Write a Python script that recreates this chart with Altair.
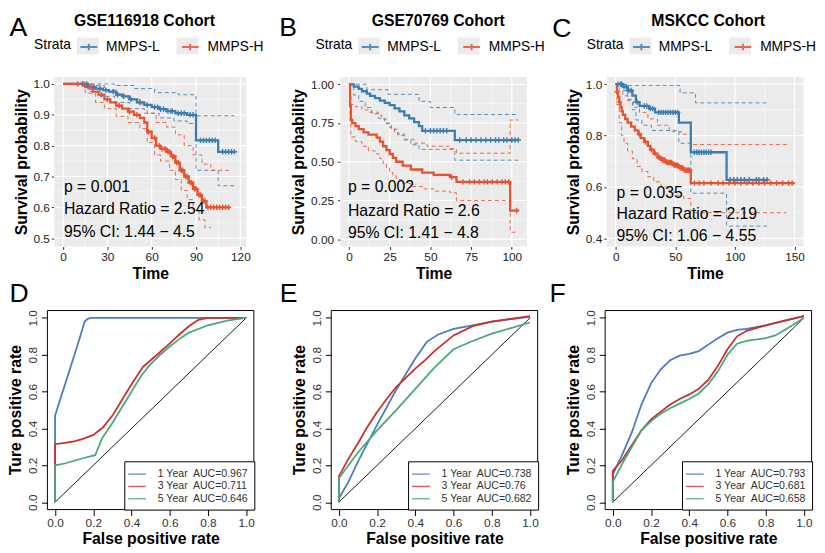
import altair as alt
import pandas as pd

FONT = "Liberation Sans"
KM_BLUE = "#3A7DB1"
KM_RED = "#E8532F"
KEY_GRAY = "#EBEBEB"
ROC_COLORS = ["#4A7DC0", "#C9302C", "#47A97C"]
STRATA = ["MMPS-L", "MMPS-H"]
KEY_DOMAIN = [s + " " for s in STRATA]

# ---------------- A: GSE116918 ----------------
A_L_T = [0, 17, 22, 27, 31, 36, 40, 45, 50, 55, 60, 65, 70, 76, 84, 90, 105]
A_L_S = [1.0, 0.99, 0.985, 0.98, 0.975, 0.965, 0.96, 0.95, 0.94, 0.932, 0.925, 0.918, 0.912, 0.905, 0.9, 0.817, 0.78]
A_L_END = 116
A_L_CENS = [13, 16, 19, 21, 25, 29, 34, 37, 41, 46, 52, 57, 62, 64, 66, 68, 71, 73, 74, 78, 80, 82, 86, 88,
            93, 95, 97, 99, 101, 103, 108, 110, 112, 114, 116]
A_L_UP_T = [0, 35, 48, 62, 78, 90]
A_L_UP_S = [1.0, 0.995, 0.985, 0.972, 0.965, 0.897]
A_L_LO_T = [0, 17, 25, 35, 45, 55, 65, 75, 84, 90, 105]
A_L_LO_S = [1.0, 0.975, 0.96, 0.94, 0.92, 0.905, 0.89, 0.88, 0.872, 0.72, 0.67]
A_H_T = [0, 15, 20, 24, 28, 32, 36, 40, 44, 48, 52, 55, 57, 60, 63, 66, 70, 73, 76, 79, 82, 85, 88, 91, 94, 97]
A_H_S = [1.0, 0.99, 0.975, 0.965, 0.95, 0.94, 0.93, 0.92, 0.91, 0.9, 0.89, 0.875, 0.845, 0.825, 0.80, 0.79,
         0.78, 0.765, 0.745, 0.72, 0.70, 0.68, 0.66, 0.64, 0.62, 0.60]
A_H_END = 113
A_H_CENS = [10, 14, 18, 26, 30, 38, 45, 50, 58, 62, 65, 67, 69, 71, 72, 74, 75, 77, 78, 80, 81, 83, 84, 86, 87,
            89, 90, 92, 93, 95, 96, 98, 100, 102, 104, 106, 108, 110, 112]
A_H_UP_T = [0, 20, 28, 36, 44, 52, 57, 63, 70, 76, 82, 88, 94, 100]
A_H_UP_S = [1.0, 0.995, 0.98, 0.965, 0.95, 0.935, 0.905, 0.875, 0.86, 0.835, 0.80, 0.77, 0.74, 0.72]
A_H_LO_T = [0, 15, 22, 28, 36, 44, 52, 57, 62, 66, 72, 76, 80, 84, 88, 92, 96]
A_H_LO_S = [1.0, 0.97, 0.94, 0.92, 0.895, 0.875, 0.855, 0.81, 0.77, 0.75, 0.72, 0.69, 0.655, 0.625, 0.59, 0.56, 0.535]
A_STATS = ["p = 0.001", "Hazard Ratio = 2.54", "95% CI: 1.44 \u2212 4.5"]

# ---------------- B: GSE70769 ----------------
B_L_T = [0, 3, 6, 8, 11, 13, 16, 19, 22, 25, 28, 31, 34, 37, 40, 43, 45, 65]
B_L_S = [1.0, 0.985, 0.97, 0.955, 0.94, 0.925, 0.91, 0.895, 0.88, 0.865, 0.845, 0.825, 0.80, 0.78, 0.755, 0.73, 0.70, 0.64]
B_L_END = 104
B_L_CENS = [47, 50, 52, 54, 56, 58, 60, 68, 72, 75, 78, 81, 84, 87, 90, 92, 95, 97, 100, 102, 104]
B_L_UP_T = [0, 11, 24, 43, 50, 65]
B_L_UP_S = [1.0, 0.965, 0.935, 0.89, 0.85, 0.805]
B_L_LO_T = [0, 3, 6, 10, 14, 18, 22, 26, 30, 34, 38, 43, 65]
B_L_LO_S = [1.0, 0.93, 0.89, 0.85, 0.81, 0.78, 0.75, 0.71, 0.68, 0.64, 0.61, 0.58, 0.51]
B_H_T = [0, 0.7, 1.2, 2, 4, 6, 9, 12, 17, 19, 21, 23, 25, 27, 29, 33, 38, 45, 52, 62, 66, 99]
B_H_S = [1.0, 0.86, 0.77, 0.75, 0.73, 0.71, 0.69, 0.675, 0.655, 0.63, 0.60, 0.575, 0.55, 0.525, 0.50, 0.475,
         0.45, 0.43, 0.415, 0.40, 0.37, 0.185]
B_H_END = 104
B_H_CENS = [63, 70, 74, 77, 80, 83, 85, 88, 91, 94, 96, 98, 103]
B_H_UP_T = [0, 0.7, 1.2, 4, 8, 12, 18, 20, 23, 25, 28, 30, 34, 40, 48, 62, 66, 99]
B_H_UP_S = [1.0, 0.93, 0.87, 0.855, 0.835, 0.82, 0.80, 0.775, 0.745, 0.72, 0.69, 0.67, 0.645, 0.62, 0.60, 0.585, 0.555, 0.77]
B_H_LO_T = [0, 0.7, 1.2, 4, 8, 12, 17, 19, 21, 23, 25, 27, 29, 33, 38, 45, 52, 62, 66, 99]
B_H_LO_S = [1.0, 0.74, 0.66, 0.63, 0.60, 0.57, 0.55, 0.52, 0.49, 0.46, 0.43, 0.41, 0.385, 0.36, 0.34, 0.325,
            0.31, 0.30, 0.25, 0.045]
B_STATS = ["p = 0.002", "Hazard Ratio = 2.6", "95% CI: 1.41 \u2212 4.8"]

# ---------------- C: MSKCC ----------------
C_L_T = [0, 6, 10, 14, 17, 20, 28, 33, 53, 63, 93]
C_L_S = [1.0, 0.99, 0.975, 0.955, 0.93, 0.915, 0.905, 0.89, 0.85, 0.735, 0.628]
C_L_END = 128
C_L_CENS = [2, 4, 5, 7, 9, 11, 13, 18, 24, 26, 29, 31, 36, 38, 40, 42, 44, 46, 48, 50, 52, 66, 68, 70, 72, 74,
            76, 78, 80, 96, 99, 102, 105, 108, 112, 118, 120, 124, 127]
C_L_UP_T = [0, 8, 54, 67]
C_L_UP_S = [1.0, 0.995, 0.966, 0.927]
C_L_LO_T = [0, 6, 10, 14, 17, 22, 30, 53, 63, 93]
C_L_LO_S = [1.0, 0.975, 0.94, 0.9, 0.86, 0.84, 0.82, 0.77, 0.576, 0.448]
C_H_T = [0, 1, 2, 3, 4, 5, 6, 8, 10, 13, 16, 19, 21, 24, 27, 29, 32, 35, 38, 42, 48, 53, 57, 63]
C_H_S = [1.0, 0.97, 0.95, 0.93, 0.91, 0.895, 0.88, 0.865, 0.85, 0.835, 0.82, 0.805, 0.79, 0.775, 0.76, 0.745,
         0.73, 0.715, 0.705, 0.695, 0.685, 0.675, 0.665, 0.615]
C_H_END = 150
C_H_CENS = [1, 3, 20, 25, 30, 33, 36, 37, 39, 40, 41, 43, 44, 45, 46, 47, 49, 50, 51, 52, 54, 55, 56, 58, 59,
            60, 61, 62, 66, 70, 74, 80, 86, 90, 95, 100, 105, 110, 115, 120, 125, 130, 135, 140, 145, 148]
C_H_UP_T = [0, 3, 6, 10, 15, 20, 27, 35, 45, 55, 63]
C_H_UP_S = [1.0, 0.975, 0.955, 0.935, 0.91, 0.89, 0.865, 0.84, 0.815, 0.805, 0.765]
C_H_LO_T = [0, 1, 3, 5, 7, 10, 14, 18, 22, 27, 32, 38, 45, 52, 57, 63]
C_H_LO_S = [1.0, 0.92, 0.85, 0.80, 0.77, 0.74, 0.71, 0.68, 0.66, 0.64, 0.62, 0.60, 0.58, 0.565, 0.555, 0.50]
C_STATS = ["p = 0.035", "Hazard Ratio = 2.19", "95% CI: 1.06 \u2212 4.55"]

# ---------------- ROC curves ----------------
D_FPR = [
    [0, 0, 0.04, 0.08, 0.12, 0.155, 0.17, 0.19, 0.25, 0.5, 0.75, 1.0],
    [0, 0, 0.05, 0.10, 0.15, 0.20, 0.25, 0.30, 0.35, 0.40, 0.46, 0.50, 0.55, 0.60, 0.65, 0.70, 0.75, 0.80, 1.0],
    [0, 0, 0.05, 0.10, 0.15, 0.21, 0.245, 0.30, 0.35, 0.40, 0.45, 0.50, 0.55, 0.60, 0.65, 0.70, 0.80, 0.90, 1.0],
]
D_TPR = [
    [0, 0.47, 0.60, 0.73, 0.86, 0.98, 0.995, 1.0, 1.0, 1.0, 1.0, 1.0],
    [0, 0.315, 0.322, 0.33, 0.345, 0.365, 0.405, 0.47, 0.555, 0.64, 0.735, 0.77, 0.815, 0.862, 0.91, 0.955, 0.99, 1.0, 1.0],
    [0, 0.20, 0.21, 0.225, 0.24, 0.255, 0.345, 0.43, 0.515, 0.60, 0.685, 0.75, 0.80, 0.845, 0.885, 0.92, 0.96, 0.985, 1.0],
]
D_AUC = ["0.967", "0.711", "0.646"]

E_FPR = [
    [0, 0, 0.05, 0.10, 0.20, 0.30, 0.40, 0.46, 0.52, 0.60, 0.70, 0.80, 0.90, 1.0],
    [0, 0, 0.05, 0.10, 0.15, 0.20, 0.25, 0.30, 0.35, 0.40, 0.45, 0.50, 0.60, 0.70, 0.80, 0.90, 1.0],
    [0, 0, 0.1, 0.2, 0.3, 0.4, 0.5, 0.6, 0.7, 0.8, 0.9, 1.0],
]
E_TPR = [
    [0, 0.02, 0.11, 0.22, 0.42, 0.61, 0.78, 0.87, 0.91, 0.94, 0.96, 0.98, 0.993, 1.005],
    [0, 0.14, 0.235, 0.32, 0.41, 0.49, 0.56, 0.625, 0.675, 0.725, 0.77, 0.82, 0.905, 0.955, 0.98, 0.995, 1.01],
    [0, 0.13, 0.27, 0.39, 0.50, 0.615, 0.73, 0.83, 0.875, 0.915, 0.945, 0.975],
]
E_AUC = ["0.738", "0.76", "0.682"]

F_FPR = [
    [0, 0, 0.05, 0.10, 0.15, 0.20, 0.25, 0.30, 0.35, 0.40, 0.45, 0.50, 0.55, 0.60, 0.65, 0.70, 0.80, 0.90, 1.0],
    [0, 0, 0.05, 0.10, 0.15, 0.20, 0.25, 0.30, 0.35, 0.40, 0.45, 0.50, 0.55, 0.60, 0.65, 0.70, 0.80, 0.90, 1.0],
    [0, 0, 0.05, 0.10, 0.15, 0.20, 0.25, 0.30, 0.35, 0.40, 0.45, 0.50, 0.55, 0.60, 0.65, 0.70, 0.80, 0.85, 0.90, 1.0],
]
F_TPR = [
    [0, 0.15, 0.26, 0.38, 0.53, 0.645, 0.72, 0.77, 0.795, 0.805, 0.82, 0.855, 0.89, 0.92, 0.935, 0.94, 0.96, 0.985, 1.01],
    [0, 0.17, 0.23, 0.31, 0.39, 0.45, 0.49, 0.53, 0.56, 0.585, 0.615, 0.665, 0.74, 0.83, 0.90, 0.93, 0.96, 0.985, 1.01],
    [0, 0.11, 0.21, 0.30, 0.39, 0.44, 0.48, 0.51, 0.535, 0.56, 0.59, 0.64, 0.71, 0.80, 0.86, 0.875, 0.89, 0.905, 0.935, 1.0],
]
F_AUC = ["0.793", "0.681", "0.658"]
YEARS = ["1", "3", "5"]
DIAG = [0, 1]
ROC_TICKS = [0, 0.2, 0.4, 0.6, 0.8, 1.0]

KM_H = 172
ROC_W = 209.5
ROC_H = 202


def step_rows(ts, ss, t_end, strata, line):
    rows = [{"t": t, "s": s, "strata": strata, "line": line, "i": i} for i, (t, s) in enumerate(zip(ts, ss))]
    rows.append({"t": t_end, "s": ss[-1], "strata": strata, "line": line, "i": len(ts)})
    return rows


def surv_at(ts, ss, x):
    v = ss[0]
    for t, s in zip(ts, ss):
        if t <= x:
            v = s
    return v


def label_mark(txt, x, y, size, weight="normal", align="left", baseline="alphabetic", angle=0):
    return alt.Chart(pd.DataFrame({"txt": [txt]})).mark_text(
        align=align, baseline=baseline, fontSize=size, fontWeight=weight, color="black", angle=angle).encode(
        text="txt:N", x=alt.value(x), y=alt.value(y))


def panel_rect(dx, w, h, **kw):
    return alt.Chart(pd.DataFrame({"k": [0]})).mark_rect(**kw).encode(
        x=alt.value(dx), x2=alt.value(dx + w), y=alt.value(0), y2=alt.value(h))


def strata_legend(legx, symbol, title_color, label_color, z, **kw):
    return alt.Legend(title="Strata", orient="none", legendX=legx, legendY=-40, direction="horizontal",
                      titleOrient="left", titleFontSize=14, titleFontWeight="normal", titleColor=title_color,
                      titlePadding=8, titleBaseline="middle", labelFontSize=14, labelColor=label_color,
                      labelOffset=8, columnPadding=18, symbolType=symbol, symbolSize=289, padding=0,
                      zindex=z, **kw)


def km_panel(p):
    dx, w = p["dx"], p["w"]
    est, ci, cens = [], [], []
    for strata, g in zip(STRATA, ["L", "H"]):
        T, S, END = p[g + "_T"], p[g + "_S"], p[g + "_END"]
        est += step_rows(T, S, END, strata, strata + "est")
        ci += step_rows(p[g + "_UP_T"], p[g + "_UP_S"], p[g + "_UP_END"], strata, strata + "up")
        ci += step_rows(p[g + "_LO_T"], p[g + "_LO_S"], p[g + "_LO_END"], strata, strata + "lo")
        cens += [{"t": c, "s": surv_at(T, S, c), "strata": strata} for c in p[g + "_CENS"]]
    cs = alt.Scale(domain=STRATA, range=[KM_BLUE, KM_RED])
    xm, ym = p["xmajor"], p["ymult"]
    x_major = [v for v in p["xvals"] if v % xm == 0]
    x_minor = [v for v in p["xvals"] if v % xm != 0]
    y_major = [v for v in p["yvals"] if abs(v * ym - round(v * ym)) < 1e-6]
    y_minor = [v for v in p["yvals"] if abs(v * ym - round(v * ym)) >= 1e-6]
    xaxis = alt.Axis(values=x_major, format="d", grid=False, tickSize=3, tickColor="#333333", domain=False,
                     labelFontSize=12, labelColor="#222222", labelPadding=2, labelFlush=False,
                     labelOverlap=False, title="Time", titleFontSize=16, titleFontWeight="bold",
                     titleColor="black", titlePadding=3, titleX=dx + w / 2)
    yaxis = alt.Axis(values=y_major, format=p["yfmt"], grid=False, tickSize=3, tickColor="#333333",
                     domain=False, labelFontSize=12, labelColor="#222222", labelPadding=p["ylabpad"],
                     labelFlush=False, labelOverlap=False, title="Survival probability", titleFontSize=16,
                     titleFontWeight="bold", titleColor="black", titlePadding=4, offset=-dx)
    x = alt.X("t:Q", scale=alt.Scale(domain=p["xdom"], range=[dx, dx + w], nice=False, zero=False), axis=xaxis)
    y = alt.Y("s:Q", scale=alt.Scale(domain=p["ydom"], nice=False, zero=False), axis=yaxis)
    leg = strata_legend(dx + p["legx"], "M-1,0H1M0,-0.4V0.4", "black", "black", 2, symbolStrokeWidth=2)
    key_leg = strata_legend(dx + p["legx"], "M-1.3,-1H1.3V1H-1.3Z", "transparent", "transparent", 1,
                            symbolStrokeWidth=0, symbolOpacity=1, labelExpr="trim(datum.label)")
    color = alt.Color("strata:N", scale=cs, legend=leg)
    layers = [panel_rect(dx, w, KM_H, color="#EBEBEB")]
    layers.append(alt.Chart(pd.DataFrame({"key": KEY_DOMAIN})).mark_point(
        filled=True, opacity=0, size=1).encode(
        x=alt.value(dx + 1), y=alt.value(1),
        fill=alt.Fill("key:N", scale=alt.Scale(domain=KEY_DOMAIN, range=[KEY_GRAY, KEY_GRAY]), legend=key_leg)))
    for vals, sw in ((x_minor, 0.5), (x_major, 1.2)):
        layers.append(alt.Chart(pd.DataFrame({"t": vals})).mark_rule(color="white", strokeWidth=sw).encode(
            x=x, y=alt.value(0), y2=alt.value(KM_H)))
    for vals, sw in ((y_minor, 0.5), (y_major, 1.2)):
        layers.append(alt.Chart(pd.DataFrame({"s": vals})).mark_rule(color="white", strokeWidth=sw).encode(
            y=y, x=alt.value(dx), x2=alt.value(dx + w)))
    layers.append(alt.Chart(pd.DataFrame(ci)).mark_line(
        interpolate="step-after", strokeDash=[4, 3], strokeWidth=1, opacity=0.85).encode(
        x=x, y=y, color=color, detail="line:N", order="i:Q"))
    layers.append(alt.Chart(pd.DataFrame(est)).mark_line(interpolate="step-after", strokeWidth=2.3).encode(
        x=x, y=y, color=color, detail="line:N", order="i:Q"))
    layers.append(alt.Chart(pd.DataFrame(cens)).mark_point(
        shape="M-1,0H1M0,-1V1", size=30, strokeWidth=1.4, filled=False, opacity=1).encode(
        x=x, y=y, color=color))
    for txt, yy in zip(p["stats"], p["stat_y"]):
        layers.append(label_mark(txt, dx + p["stat_x"], yy, 16))
    layers.append(label_mark(p["letter"], dx + p["let_x"], p["let_y"], 27))
    layers.append(label_mark(p["title"], dx + p["title_x"], -52, 16, weight="bold", align="center"))
    return alt.layer(*layers).properties(
        width=dx + w, height=KM_H, view=alt.ViewBackground(stroke="transparent"))


def roc_panel(letter, fprs, tprs, aucs, let_x, dx):
    rows = []
    labels = [f"{yr} Year\u00a0 AUC={a}" for yr, a in zip(YEARS, aucs)]
    for lab, fs, ts in zip(labels, fprs, tprs):
        rows += [{"fpr": f, "tpr": t, "lab": lab, "i": i} for i, (f, t) in enumerate(zip(fs, ts))]
    xaxis = alt.Axis(values=ROC_TICKS, format=".1f", tickSize=6, tickColor="black", domain=False, grid=False,
                     labelFontSize=12, labelColor="#333333", labelPadding=2, labelFlush=False,
                     title="False positive rate", titleFontSize=16, titleFontWeight="bold", titleColor="black",
                     titlePadding=2, titleX=dx + ROC_W / 2)
    yaxis = alt.Axis(values=ROC_TICKS, format=".1f", tickSize=6, tickColor="black", domain=False, grid=False,
                     labelFontSize=12, labelColor="#333333", labelPadding=2, labelFlush=False, labelAngle=270,
                     labelAlign="center", labelBaseline="bottom", title=None, offset=-dx)
    x = alt.X("fpr:Q", scale=alt.Scale(domain=[-0.04, 1.04], range=[dx, dx + ROC_W], nice=False, zero=False),
              axis=xaxis)
    y = alt.Y("tpr:Q", scale=alt.Scale(domain=[-0.04, 1.04], nice=False, zero=False), axis=yaxis)
    leg = alt.Legend(title=None, orient="bottom-right", offset=0, strokeColor="black", fillColor="white",
                     padding=6, symbolType="M-1.5,0H1.5", symbolSize=144, symbolStrokeWidth=1.5,
                     symbolOpacity=0.75, labelFontSize=10.7, labelColor="#333333", labelOffset=14,
                     rowPadding=0.5, labelLimit=200)
    diag = alt.Chart(pd.DataFrame({"fpr": DIAG, "tpr": DIAG})).mark_line(color="black", strokeWidth=0.9).encode(
        x=x, y=y)
    lines = alt.Chart(pd.DataFrame(rows)).mark_line(strokeWidth=1.8).encode(
        x=x, y=y, color=alt.Color("lab:N", scale=alt.Scale(domain=labels, range=ROC_COLORS), legend=leg),
        order="i:Q")
    box = panel_rect(dx, ROC_W, ROC_H, fillOpacity=0, stroke="black", strokeWidth=1)
    let = label_mark(letter, dx + let_x, -8.5, 27)
    ytitle = label_mark("Ture positive rate", dx - 31.5, ROC_H / 2, 16, weight="bold", align="center",
                        baseline="middle", angle=270)
    return alt.layer(diag, lines, box, let, ytitle).properties(
        width=dx + ROC_W, height=ROC_H, view=alt.ViewBackground(stroke="transparent"))


pA = km_panel({
    "L_T": A_L_T, "L_S": A_L_S, "L_END": A_L_END, "L_CENS": A_L_CENS,
    "L_UP_T": A_L_UP_T, "L_UP_S": A_L_UP_S, "L_UP_END": 116, "L_LO_T": A_L_LO_T, "L_LO_S": A_L_LO_S, "L_LO_END": 116,
    "H_T": A_H_T, "H_S": A_H_S, "H_END": A_H_END, "H_CENS": A_H_CENS,
    "H_UP_T": A_H_UP_T, "H_UP_S": A_H_UP_S, "H_UP_END": 113, "H_LO_T": A_H_LO_T, "H_LO_S": A_H_LO_S, "H_LO_END": 100,
    "xdom": [-5.9, 124], "ydom": [0.473, 1.0225], "dx": 7, "w": 194.8,
    "xvals": [0, 15, 30, 45, 60, 75, 90, 105, 120], "xmajor": 30,
    "yvals": [0.5, 0.55, 0.6, 0.65, 0.7, 0.75, 0.8, 0.85, 0.9, 0.95, 1.0], "ymult": 10, "yfmt": ".1f",
    "ylabpad": 2, "legx": -20.5, "stats": A_STATS, "stat_x": 9.8, "stat_y": [116.2, 139.5, 162.8],
    "letter": "A", "let_x": -45.5, "let_y": -42, "title": "GSE116918 Cohort", "title_x": 91.5,
})
pB = km_panel({
    "L_T": B_L_T, "L_S": B_L_S, "L_END": B_L_END, "L_CENS": B_L_CENS,
    "L_UP_T": B_L_UP_T, "L_UP_S": B_L_UP_S, "L_UP_END": 104, "L_LO_T": B_L_LO_T, "L_LO_S": B_L_LO_S, "L_LO_END": 104,
    "H_T": B_H_T, "H_S": B_H_S, "H_END": B_H_END, "H_CENS": B_H_CENS,
    "H_UP_T": B_H_UP_T, "H_UP_S": B_H_UP_S, "H_UP_END": 104, "H_LO_T": B_H_LO_T, "H_LO_S": B_H_LO_S, "H_LO_END": 104,
    "xdom": [-5.2, 109.2], "ydom": [-0.047, 1.047], "dx": 14.6, "w": 189.1,
    "xvals": [0, 12.5, 25, 37.5, 50, 62.5, 75, 87.5, 100], "xmajor": 25,
    "yvals": [0, 0.125, 0.25, 0.375, 0.5, 0.625, 0.75, 0.875, 1.0], "ymult": 4, "yfmt": ".2f",
    "ylabpad": 4, "legx": -25.4, "stats": B_STATS, "stat_x": 7.6, "stat_y": [116.2, 141.4, 163.0],
    "letter": "B", "let_x": -62, "let_y": -42, "title": "GSE70769 Cohort", "title_x": 99.3,
})
pC = km_panel({
    "L_T": C_L_T, "L_S": C_L_S, "L_END": C_L_END, "L_CENS": C_L_CENS,
    "L_UP_T": C_L_UP_T, "L_UP_S": C_L_UP_S, "L_UP_END": 127, "L_LO_T": C_L_LO_T, "L_LO_S": C_L_LO_S, "L_LO_END": 127,
    "H_T": C_H_T, "H_S": C_H_S, "H_END": C_H_END, "H_CENS": C_H_CENS,
    "H_UP_T": C_H_UP_T, "H_UP_S": C_H_UP_S, "H_UP_END": 145, "H_LO_T": C_H_LO_T, "H_LO_S": C_H_LO_S, "H_LO_END": 143,
    "xdom": [-7.5, 157.5], "ydom": [0.3686, 1.0276], "dx": 0, "w": 199.7,
    "xvals": [0, 25, 50, 75, 100, 125, 150], "xmajor": 50,
    "yvals": [0.4, 0.5, 0.6, 0.7, 0.8, 0.9, 1.0], "ymult": 5, "yfmt": ".1f",
    "ylabpad": 2, "legx": -20.3, "stats": C_STATS, "stat_x": 10, "stat_y": [122.8, 143.8, 166.2],
    "letter": "C", "let_x": -55.3, "let_y": -41, "title": "MSKCC Cohort", "title_x": 103,
})

pD = roc_panel("D", D_FPR, D_TPR, D_AUC, -38.5, 0)
pE = roc_panel("E", E_FPR, E_TPR, E_AUC, -52.3, 10)
pF = roc_panel("F", F_FPR, F_TPR, F_AUC, -56.5, 0)

row1 = alt.hconcat(pA, pB, pC, spacing=80.8, bounds="flush").resolve_scale(color="independent", fill="independent")
row2 = alt.hconcat(pD, pE, pF, spacing=68, bounds="flush").resolve_scale(color="independent")
chart = alt.vconcat(row1, row2, spacing=-2, bounds="full").resolve_scale(
    color="independent", fill="independent").properties(padding=0).configure(font=FONT)

chart.save("out.html", embed_options={"renderer": "svg", "actions": False})
